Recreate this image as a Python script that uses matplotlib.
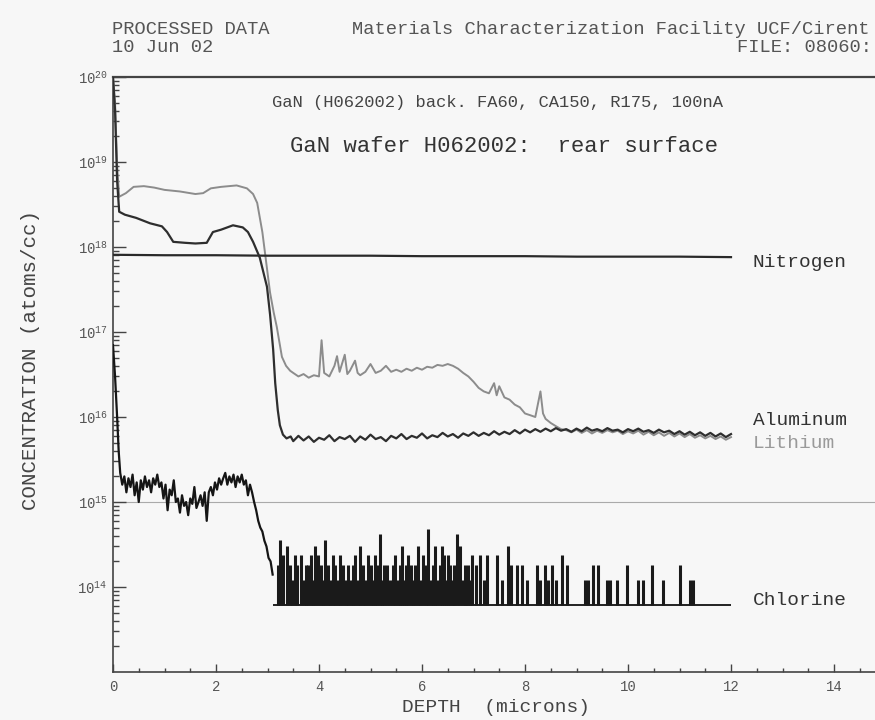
import math

import matplotlib
matplotlib.use("Agg")
import matplotlib.pyplot as plt
from matplotlib.ticker import LogLocator, FuncFormatter, MultipleLocator, NullFormatter, FixedLocator


# =========================
# 0. 데이터
# =========================

# Nitrogen: 거의 일정한 매트릭스 신호
n_depth = [0.0, 1.0, 2.0, 3.0, 4.0, 5.0, 6.0, 7.0, 8.0, 9.0, 10.0, 11.0, 12.0]
n_conc = [8.1e17, 8.0e17, 8.0e17, 7.9e17, 7.9e17, 7.9e17, 7.8e17,
          7.8e17, 7.8e17, 7.7e17, 7.7e17, 7.7e17, 7.6e17]

# Aluminum
al_depth = [0.00, 0.04, 0.08, 0.12, 0.23, 0.45, 0.72, 0.95, 1.05, 1.17,
            1.40, 1.60, 1.82, 1.94, 2.10, 2.33, 2.52, 2.62, 2.72, 2.85,
            2.99, 3.05, 3.11, 3.15, 3.20, 3.24, 3.30, 3.37, 3.45,
            3.5, 3.6, 3.7, 3.8, 3.9, 4.0, 4.1, 4.2, 4.3, 4.4,
            4.5, 4.6, 4.7, 4.8, 4.9, 5.0, 5.1, 5.2, 5.3, 5.4,
            5.5, 5.6, 5.7, 5.8, 5.9, 6.0, 6.1, 6.2, 6.3, 6.4,
            6.5, 6.6, 6.7, 6.8, 6.9, 7.0, 7.1, 7.2, 7.3, 7.4,
            7.5, 7.6, 7.7, 7.8, 7.9, 8.0, 8.1, 8.2, 8.3, 8.4,
            8.5, 8.6, 8.7, 8.8, 8.9, 9.0, 9.1, 9.2, 9.3, 9.4,
            9.5, 9.6, 9.7, 9.8, 9.9, 10.0, 10.1, 10.2, 10.3, 10.4,
            10.5, 10.6, 10.7, 10.8, 10.9, 11.0, 11.1, 11.2, 11.3, 11.4,
            11.5, 11.6, 11.7, 11.8, 11.9, 12.0]
al_conc = [1.0e20, 4.0e19, 6.0e18, 2.6e18, 2.4e18, 2.2e18, 1.9e18, 1.75e18, 1.5e18, 1.15e18,
           1.12e18, 1.1e18, 1.12e18, 1.5e18, 1.6e18, 1.8e18, 1.7e18, 1.5e18, 1.15e18, 7.5e17,
           3.4e17, 1.6e17, 6.2e16, 2.5e16, 1.2e16, 8.0e15, 6.2e15, 5.6e15, 5.9e15,
           5.2e15, 6.0e15, 5.3e15, 5.9e15, 5.1e15, 5.7e15, 5.4e15, 6.1e15, 5.2e15, 5.8e15,
           5.5e15, 6.0e15, 5.1e15, 5.9e15, 5.4e15, 6.2e15, 5.5e15, 5.8e15, 5.2e15, 6.0e15,
           5.6e15, 6.3e15, 5.5e15, 6.0e15, 5.7e15, 6.4e15, 5.6e15, 6.1e15, 5.8e15, 6.5e15,
           5.9e15, 6.3e15, 5.7e15, 6.4e15, 6.0e15, 6.6e15, 6.0e15, 6.5e15, 6.1e15, 6.8e15,
           6.2e15, 6.7e15, 6.3e15, 7.0e15, 6.4e15, 7.1e15, 6.6e15, 7.2e15, 6.7e15, 7.3e15,
           6.8e15, 7.4e15, 6.9e15, 7.2e15, 6.7e15, 7.3e15, 6.8e15, 7.5e15, 6.9e15, 7.2e15,
           6.8e15, 7.4e15, 6.9e15, 7.1e15, 6.6e15, 7.2e15, 6.8e15, 7.3e15, 6.7e15, 7.0e15,
           6.5e15, 7.1e15, 6.6e15, 6.9e15, 6.3e15, 6.8e15, 6.2e15, 6.7e15, 6.1e15, 6.6e15,
           6.0e15, 6.5e15, 5.9e15, 6.4e15, 5.8e15, 6.3e15]

# Lithium
li_depth = [0.00, 0.04, 0.08, 0.12, 0.25, 0.40, 0.60, 0.80, 1.00, 1.30,
            1.60, 1.75, 1.90, 2.10, 2.40, 2.60, 2.72, 2.80, 2.90, 3.00,
            3.05, 3.12, 3.18, 3.28, 3.36, 3.44,
            3.50, 3.60, 3.70, 3.80, 3.90, 4.00, 4.05, 4.10, 4.20, 4.30,
            4.35, 4.40, 4.50, 4.55, 4.60, 4.70, 4.75, 4.80, 4.90, 5.00,
            5.10, 5.20, 5.30, 5.40, 5.50, 5.60, 5.70, 5.80, 5.90, 6.00,
            6.10, 6.20, 6.30, 6.40, 6.50, 6.60, 6.70, 6.80, 6.90, 7.00,
            7.10, 7.20, 7.30, 7.40, 7.45, 7.50, 7.60, 7.70, 7.80, 7.90,
            8.00, 8.10, 8.20, 8.30, 8.35, 8.40, 8.50, 8.60, 8.70, 8.80,
            8.90, 9.00, 9.10, 9.20, 9.30, 9.40, 9.50, 9.60, 9.70, 9.80,
            9.90, 10.00, 10.10, 10.20, 10.30, 10.40, 10.50, 10.60, 10.70, 10.80,
            10.90, 11.00, 11.10, 11.20, 11.30, 11.40, 11.50, 11.60, 11.70, 11.80,
            11.90, 12.00]
li_conc = [1.0e20, 5.0e19, 9.0e18, 3.9e18, 4.3e18, 5.1e18, 5.2e18, 5.0e18, 4.7e18, 4.5e18,
           4.2e18, 4.3e18, 4.9e18, 5.1e18, 5.3e18, 4.9e18, 4.2e18, 3.3e18, 1.5e18, 5.0e17,
           2.9e17, 1.7e17, 1.15e17, 5.1e16, 4.0e16, 3.5e16,
           3.3e16, 3.0e16, 3.2e16, 2.9e16, 3.1e16, 3.0e16, 8.0e16, 3.3e16, 3.0e16, 4.0e16,
           5.2e16, 3.4e16, 5.4e16, 3.2e16, 3.5e16, 4.6e16, 3.3e16, 3.1e16, 3.4e16, 4.2e16,
           3.3e16, 3.5e16, 4.0e16, 3.4e16, 3.6e16, 3.4e16, 3.7e16, 3.5e16, 3.8e16, 3.6e16,
           3.9e16, 3.8e16, 4.1e16, 4.0e16, 4.2e16, 4.0e16, 3.7e16, 3.3e16, 3.0e16, 2.6e16,
           2.2e16, 2.0e16, 1.9e16, 2.5e16, 1.8e16, 2.3e16, 1.7e16, 1.6e16, 1.4e16, 1.3e16,
           1.1e16, 1.05e16, 1.0e16, 2.0e16, 1.1e16, 9.5e15, 8.5e15, 7.8e15, 7.2e15, 7.0e15,
           6.6e15, 7.1e15, 6.5e15, 7.0e15, 6.4e15, 6.9e15, 6.5e15, 7.0e15, 6.6e15, 6.9e15,
           6.3e15, 6.8e15, 6.4e15, 6.9e15, 6.2e15, 6.7e15, 6.1e15, 6.6e15, 6.0e15, 6.5e15,
           5.9e15, 6.4e15, 5.8e15, 6.3e15, 5.7e15, 6.1e15, 5.6e15, 6.0e15, 5.5e15, 5.9e15,
           5.4e15, 5.8e15]

# Chlorine: 표면 ~ 3.1 um 구간
cl_depth = [0.00, 0.04, 0.08, 0.11, 0.14, 0.18, 0.22, 0.26, 0.30, 0.34,
            0.38, 0.42, 0.46, 0.50, 0.54, 0.58, 0.62, 0.66, 0.70, 0.74,
            0.78, 0.82, 0.86, 0.90, 0.94, 0.98, 1.02, 1.06, 1.10, 1.14,
            1.18, 1.22, 1.26, 1.30, 1.34, 1.38, 1.42, 1.46, 1.50, 1.54,
            1.58, 1.62, 1.66, 1.70, 1.74, 1.78, 1.82, 1.86, 1.90, 1.94,
            1.98, 2.02, 2.06, 2.10, 2.14, 2.18, 2.22, 2.26, 2.30, 2.34,
            2.38, 2.42, 2.46, 2.50, 2.54, 2.58, 2.62, 2.66, 2.70, 2.74,
            2.78, 2.82, 2.86, 2.90, 2.94, 2.98, 3.02, 3.06, 3.10]
cl_conc = [7.0e16, 3.0e16, 1.0e16, 4.0e15, 2.2e15, 1.6e15, 2.0e15, 1.3e15, 1.9e15, 1.5e15,
           2.1e15, 1.2e15, 1.7e15, 1.0e15, 1.8e15, 1.4e15, 2.0e15, 1.5e15, 1.8e15, 1.3e15,
           1.9e15, 1.6e15, 2.1e15, 1.5e15, 1.7e15, 1.1e15, 1.6e15, 8.0e14, 1.4e15, 1.2e15,
           1.8e15, 1.0e15, 1.1e15, 7.5e14, 1.2e15, 9.0e14, 1.0e15, 7.0e14, 1.1e15, 9.5e14,
           1.5e15, 8.5e14, 1.0e15, 1.2e15, 9.0e14, 1.3e15, 6.0e14, 1.3e15, 1.5e15, 1.2e15,
           1.7e15, 1.4e15, 1.9e15, 1.6e15, 1.9e15, 2.2e15, 1.6e15, 2.0e15, 1.7e15, 2.1e15,
           1.5e15, 2.0e15, 1.7e15, 2.1e15, 1.6e15, 1.8e15, 1.2e15, 1.6e15, 1.3e15, 1.0e15,
           8.0e14, 6.0e14, 5.0e14, 4.5e14, 3.5e14, 3.0e14, 2.2e14, 2.0e14, 1.4e14]

# Chlorine: 3.1 um 이후 검출한계 근처의 스파이크
cl_floor = 6.2e13
cl_floor_span = [3.1, 12.0]
cl_spike_depth = [3.20, 3.24, 3.30, 3.37, 3.44, 3.48, 3.53, 3.58, 3.66, 3.71,
                  3.74, 3.79, 3.85, 3.88, 3.92, 3.98, 4.03, 4.07, 4.12, 4.17,
                  4.22, 4.27, 4.32, 4.36, 4.41, 4.47, 4.52, 4.57, 4.62, 4.66,
                  4.70, 4.75, 4.80, 4.85, 4.90, 4.96, 5.01, 5.05, 5.09, 5.13,
                  5.18, 5.23, 5.27, 5.32, 5.38, 5.43, 5.48, 5.53, 5.57, 5.61,
                  5.66, 5.69, 5.73, 5.78, 5.83, 5.87, 5.92, 5.97, 6.02, 6.07,
                  6.12, 6.17, 6.21, 6.25, 6.30, 6.34, 6.38, 6.43, 6.46, 6.50,
                  6.55, 6.60, 6.63, 6.68, 6.74, 6.79, 6.83, 6.86, 6.90, 6.94,
                  6.97, 7.05, 7.12, 7.20, 7.26, 7.45, 7.55, 7.67, 7.72, 7.85,
                  7.94, 8.04, 8.23, 8.30, 8.38, 8.45, 8.52, 8.60, 8.72, 8.82,
                  9.17, 9.22, 9.32, 9.42, 9.59, 9.66, 9.79, 9.98, 10.19, 10.29,
                  10.47, 10.68, 11.01, 11.20, 11.26]
cl_spike_conc = [1.8e14, 3.6e14, 2.4e14, 3.0e14, 1.8e14, 1.2e14, 2.4e14, 1.8e14, 2.4e14, 1.2e14,
                 1.8e14, 1.8e14, 2.4e14, 1.2e14, 3.0e14, 2.4e14, 1.8e14, 1.2e14, 3.6e14, 1.8e14,
                 1.2e14, 2.4e14, 1.8e14, 1.2e14, 2.4e14, 1.8e14, 1.2e14, 1.8e14, 1.2e14, 1.8e14,
                 2.4e14, 1.2e14, 3.0e14, 1.8e14, 1.2e14, 2.4e14, 1.8e14, 1.2e14, 2.4e14, 1.8e14,
                 4.2e14, 1.2e14, 1.8e14, 1.8e14, 1.2e14, 1.8e14, 2.4e14, 1.2e14, 1.8e14, 3.0e14,
                 1.2e14, 1.8e14, 2.4e14, 1.8e14, 1.2e14, 1.8e14, 3.0e14, 1.2e14, 2.4e14, 1.8e14,
                 4.8e14, 1.2e14, 1.8e14, 3.0e14, 1.2e14, 1.8e14, 3.0e14, 2.4e14, 1.2e14, 2.4e14,
                 1.8e14, 1.2e14, 1.8e14, 4.2e14, 3.0e14, 1.2e14, 1.8e14, 1.2e14, 1.8e14, 1.2e14,
                 2.4e14, 1.8e14, 2.4e14, 1.2e14, 2.4e14, 2.4e14, 1.2e14, 3.0e14, 1.8e14, 1.8e14,
                 1.8e14, 1.2e14, 1.8e14, 1.2e14, 1.8e14, 1.2e14, 1.8e14, 1.2e14, 2.4e14, 1.8e14,
                 1.2e14, 1.2e14, 1.8e14, 1.8e14, 1.2e14, 1.2e14, 1.2e14, 1.8e14, 1.2e14, 1.2e14,
                 1.8e14, 1.2e14, 1.8e14, 1.2e14, 1.2e14]

# 오른쪽 원소 라벨 (이름, 농도 위치)
element_labels = ["Nitrogen", "Aluminum", "Lithium", "Chlorine"]
element_label_conc = [6.6e17, 9.1e15, 4.9e15, 6.9e13]
element_label_colors = ["#333333", "#333333", "#9a9a9a", "#333333"]

# 라벨이 붙는 y축 눈금 (10^13 은 라벨 없음)
y_decades = [1e14, 1e15, 1e16, 1e17, 1e18, 1e19, 1e20]


# =========================
# 1. 스타일
# =========================

MONO = "Liberation Mono"
plt.rcParams["mathtext.fontset"] = "custom"
plt.rcParams["mathtext.rm"] = MONO
plt.rcParams["mathtext.it"] = MONO
plt.rcParams["mathtext.bf"] = MONO

W, H = 875, 720


def fx(px):
    return px / W


def fy(py):
    return 1 - py / H


def decade_label(v, pos):
    return r"$\mathregular{10^{%d}}$" % round(math.log10(v))


# =========================
# 2. 그림
# =========================

def main():
    fig = plt.figure(figsize=(W / 100, H / 100), dpi=100, facecolor="#f7f7f7")

    # x=0 -> 113px, 51.5 px/um ; 1e20 -> 77px, 1e13 -> 672px
    left, right = 113, 113 + 51.5 * 15
    top, bottom = 77, 672
    ax = fig.add_axes([fx(left), fy(bottom), (right - left) / W, (bottom - top) / H])
    ax.set_facecolor("#f7f7f7")

    ax.set_yscale("log")
    ax.set_xlim(0, 15)
    ax.set_ylim(1e13, 1e20)

    # 1e15 기준선
    ax.axhline(1e15, color="#aaaaaa", lw=0.8, zorder=1)

    ax.plot(n_depth, n_conc, color="#2a2a2a", lw=1.6, zorder=3)
    ax.plot(li_depth, li_conc, color="#8c8c8c", lw=1.4, zorder=2)
    ax.plot(al_depth, al_conc, color="#2e2e2e", lw=1.6, zorder=3)

    ax.plot(cl_depth, cl_conc, color="#151515", lw=1.6, zorder=3)
    ax.hlines(cl_floor, cl_floor_span[0], cl_floor_span[1], color="#222222", lw=1.4, zorder=3)
    ax.vlines(cl_spike_depth, cl_floor, cl_spike_conc, color="#1a1a1a", lw=2.2, zorder=3)

    for name, conc, col in zip(element_labels, element_label_conc, element_label_colors):
        ax.text(12.42, conc, name, color=col, fontsize=14, family=MONO,
                ha="left", va="center")

    # 축 스타일
    for side in ["left", "bottom", "top"]:
        ax.spines[side].set_color("#444444")
    ax.spines["top"].set_linewidth(1.6)
    ax.spines["left"].set_linewidth(1.2)
    ax.spines["bottom"].set_linewidth(1.2)
    ax.spines["right"].set_visible(False)

    ax.xaxis.set_major_locator(MultipleLocator(2))
    ax.xaxis.set_minor_locator(MultipleLocator(0.5))
    ax.yaxis.set_major_locator(FixedLocator(y_decades))
    ax.yaxis.set_minor_locator(LogLocator(base=10, subs=range(2, 10), numticks=50))
    ax.yaxis.set_minor_formatter(NullFormatter())
    ax.yaxis.set_major_formatter(FuncFormatter(decade_label))

    ax.tick_params(axis="both", which="both", direction="in", colors="#444444",
                   labelcolor="#555555", top=False, right=False)
    ax.tick_params(axis="x", which="major", length=6, width=1, labelsize=10, pad=6)
    ax.tick_params(axis="x", which="minor", length=3, width=1)
    ax.tick_params(axis="y", which="major", length=9, width=1, labelsize=10, pad=4)
    ax.tick_params(axis="y", which="minor", length=4, width=1)
    for lab in ax.get_xticklabels() + ax.get_yticklabels():
        lab.set_family(MONO)

    # 헤더 / 제목
    head = dict(family=MONO, fontsize=13.5, color="#555555", va="center")
    fig.text(fx(112), fy(30), "PROCESSED DATA", **head)
    fig.text(fx(112), fy(47), "10 Jun 02", **head)
    fig.text(fx(352), fy(30), "Materials Characterization Facility UCF/Cirent", **head)
    fig.text(fx(872), fy(47), "FILE: 08060:", ha="right", **head)
    fig.text(fx(272), fy(103), "GaN (H062002) back. FA60, CA150, R175, 100nA",
             family=MONO, fontsize=12.3, color="#444444", va="center")
    fig.text(fx(290), fy(146), "GaN wafer H062002:  rear surface",
             family=MONO, fontsize=16, color="#333333", va="center")

    fig.text(fx(31), fy(360), "CONCENTRATION (atoms/cc)", family=MONO, fontsize=15,
             color="#444444", rotation=90, ha="center", va="center")
    fig.text(fx(496), fy(708), "DEPTH  (microns)", family=MONO, fontsize=14,
             color="#444444", ha="center", va="center")

    fig.savefig("out.png", dpi=100, facecolor=fig.get_facecolor())
    plt.close(fig)


if __name__ == "__main__":
    main()
